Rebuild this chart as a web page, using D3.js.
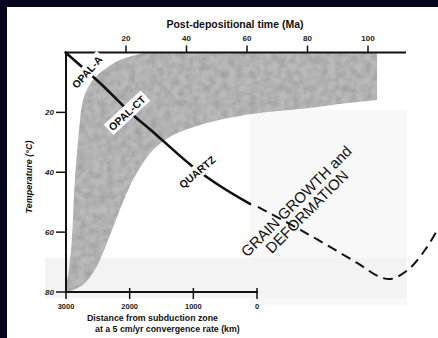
<!DOCTYPE html>
<html>
<head>
<meta charset="utf-8">
<script src="https://cdn.jsdelivr.net/npm/d3@7"></script>
<style>
  html, body { margin: 0; padding: 0; background: #fff; }
  svg { display: block; font-family: "Liberation Sans", Arial, sans-serif; }
</style>
</head>
<body>
<svg id="chart"></svg>
<script>
const width = 438;
const height = 338;

// axis ticks
const timeTicks = [20, 40, 60, 80, 100];
const tempTicks = [20, 40, 60, 80];
const distTicks = [3000, 2000, 1000, 0];

// burial path (Ma, deg C)
const solidMa   = [0, 11.4, 22.3, 27.9, 41.8, 51.1, 61.0];
const solidTemp = [0, 10.2, 20.9, 25.6, 37.9, 44.6, 50.6];
const dashMa    = [63.6, 74.2, 83.5, 96.4, 104.0, 107.9, 113.9, 119.5, 122.5];
const dashTemp  = [51.6, 57.3, 62.6, 70.3, 75.0, 75.6, 72.0, 65.0, 60.0];

// shaded field: curved outline from lower right corner round to the top edge (Ma, deg C)
const zoneMa   = [103, 88.4, 77.5, 66.6, 57.7, 51.1, 44.5, 39.5, 34.5, 28.9, 23.6, 20.7, 18.3, 16.0, 13.7, 11.4, 9.1, 6.1, 2.5, 0.5, 1.2, 2.1, 3.1, 4.5, 5.8, 8.1, 11.4, 18.0, 26.6];
const zoneTemp = [15.9, 17.5, 18.9, 19.9, 21.2, 22.5, 24.2, 25.9, 28.2, 32.6, 40.2, 45.9, 51.6, 57.6, 63.6, 69.3, 73.6, 77.3, 79.3, 79.7, 72.0, 62.6, 42.6, 25.9, 15.9, 10.5, 6.8, 2.5, 0];
const zoneTopRight = [103, 0];

// silica phase labels
const phaseNames = ["OPAL-A", "OPAL-CT", "QUARTZ"];
const phaseMa    = [7.1, 20.3, 43.5];
const phaseTemp  = [6.5, 20.2, 39.9];
const phaseAngle = [-48, -43, -40];

const svg = d3.select("#chart")
    .attr("width", width)
    .attr("height", height);

const defs = svg.append("defs");
const mottle = defs.append("filter").attr("id", "mottle")
    .attr("x", 0).attr("y", 0).attr("width", 1).attr("height", 1);
mottle.append("feTurbulence").attr("type", "fractalNoise")
    .attr("baseFrequency", 0.14).attr("numOctaves", 2).attr("seed", 4).attr("result", "noise");
mottle.append("feColorMatrix").attr("in", "noise").attr("type", "matrix")
    .attr("values", "0 0 0 0 0  0 0 0 0 0  0 0 0 0 0  0.25 0 0 0 -0.08").attr("result", "spots");
mottle.append("feComposite").attr("in", "spots").attr("in2", "SourceGraphic").attr("operator", "in");

svg.append("rect").attr("width", width).attr("height", height).attr("fill", "#fff");

// faint scan tint
svg.append("rect").attr("x", 250).attr("y", 110).attr("width", 157).attr("height", 195).attr("fill", "#f8f8f8");
svg.append("rect").attr("x", 45).attr("y", 258).attr("width", 362).attr("height", 40).attr("fill", "#f3f3f3");

const x = d3.scaleLinear().domain([0, 100]).range([65.5, 368]);
const y = d3.scaleLinear().domain([0, 80]).range([52.5, 292]);
const xDist = d3.scaleLinear().domain([3000, 0]).range([66, 257]);

// shaded field
const zoneCurve = d3.line().x(d => x(d[0])).y(d => y(d[1])).curve(d3.curveCatmullRom)(zoneMa.map((m, i) => [m, zoneTemp[i]]));
const zonePath = zoneCurve + `L${x(zoneTopRight[0])},${y(zoneTopRight[1])}Z`;
svg.append("path").attr("d", zonePath).attr("fill", "#bababa");
svg.append("path").attr("d", zonePath).attr("fill", "#000").attr("filter", "url(#mottle)");

// top axis
const topAxis = svg.append("g").attr("transform", `translate(0,${y(0)})`);
topAxis.append("line").attr("x1", 66).attr("x2", 406).attr("stroke", "#111").attr("stroke-width", 2);
topAxis.selectAll("line.tick").data(timeTicks).enter().append("line")
    .attr("class", "tick")
    .attr("x1", d => x(d)).attr("x2", d => x(d))
    .attr("y1", 0).attr("y2", -7)
    .attr("stroke", "#111").attr("stroke-width", 1.5);
topAxis.selectAll("text").data(timeTicks).enter().append("text")
    .attr("x", d => x(d)).attr("y", -12)
    .attr("text-anchor", "middle")
    .attr("font-size", 8).attr("font-weight", "bold").attr("fill", "#222")
    .text(d => d);

svg.append("text")
    .attr("x", 235).attr("y", 28)
    .attr("text-anchor", "middle")
    .attr("font-size", 10.5).attr("font-weight", "bold").attr("fill", "#111")
    .text("Post-depositional time (Ma)");

// left axis
const leftAxis = svg.append("g").attr("transform", `translate(66,0)`);
leftAxis.append("line").attr("y1", 52).attr("y2", 293).attr("stroke", "#111").attr("stroke-width", 2);
leftAxis.selectAll("line.tick").data(tempTicks).enter().append("line")
    .attr("class", "tick")
    .attr("y1", d => y(d)).attr("y2", d => y(d))
    .attr("x1", 0).attr("x2", -10)
    .attr("stroke", "#111").attr("stroke-width", 1.5);
leftAxis.selectAll("text").data(tempTicks).enter().append("text")
    .attr("x", -12).attr("y", d => y(d) + 3)
    .attr("text-anchor", "end")
    .attr("font-size", 8).attr("font-weight", "bold").attr("font-style", "italic").attr("fill", "#222")
    .text(d => d);

svg.append("text")
    .attr("transform", "translate(32,177) rotate(-90)")
    .attr("text-anchor", "middle")
    .attr("font-size", 9).attr("font-weight", "bold").attr("font-style", "italic").attr("fill", "#111")
    .text("Temperature (°C)");

// bottom axis
const botAxis = svg.append("g").attr("transform", `translate(0,${y(80)})`);
botAxis.append("line").attr("x1", 65).attr("x2", 258).attr("stroke", "#111").attr("stroke-width", 2);
botAxis.selectAll("line.tick").data(distTicks).enter().append("line")
    .attr("class", "tick")
    .attr("x1", d => xDist(d)).attr("x2", d => xDist(d))
    .attr("y1", -4).attr("y2", 7)
    .attr("stroke", "#111").attr("stroke-width", 1.5);
botAxis.selectAll("text").data(distTicks).enter().append("text")
    .attr("x", d => xDist(d)).attr("y", 17)
    .attr("text-anchor", "middle")
    .attr("font-size", 7.5).attr("font-weight", "bold").attr("fill", "#222")
    .text(d => d);

svg.append("text")
    .attr("x", 87).attr("y", 321)
    .attr("font-size", 8.8).attr("font-weight", "bold").attr("fill", "#111")
    .text("Distance from subduction zone");
svg.append("text")
    .attr("x", 95).attr("y", 332)
    .attr("font-size", 8.8).attr("font-weight", "bold").attr("fill", "#111")
    .text("at a 5 cm/yr convergence rate (km)");

// burial path
const lineGen = d3.line().x(d => x(d[0])).y(d => y(d[1])).curve(d3.curveCatmullRom);
svg.append("path")
    .attr("d", lineGen(solidMa.map((m, i) => [m, solidTemp[i]])))
    .attr("fill", "none").attr("stroke", "#111").attr("stroke-width", 2.6)
    .attr("stroke-linecap", "round");
svg.append("path")
    .attr("d", lineGen(dashMa.map((m, i) => [m, dashTemp[i]])))
    .attr("fill", "none").attr("stroke", "#111").attr("stroke-width", 2)
    .attr("stroke-dasharray", "10,6");

// phase labels with white boxes
phaseNames.forEach((name, i) => {
    const g = svg.append("g")
        .attr("transform", `translate(${x(phaseMa[i])},${y(phaseTemp[i])}) rotate(${phaseAngle[i]})`);
    const t = g.append("text")
        .attr("text-anchor", "middle").attr("y", 4)
        .attr("font-size", 10.5).attr("font-weight", "bold").attr("fill", "#111")
        .text(name);
    const b = t.node().getBBox();
    g.insert("rect", "text")
        .attr("x", b.x - 2).attr("y", b.y - 1)
        .attr("width", b.width + 4).attr("height", b.height + 2)
        .attr("fill", "#fff");
});

// grain growth annotation
const ann = svg.append("g")
    .attr("transform", `translate(${x(77.5)},${y(50.9)}) rotate(-45)`);
ann.append("text").attr("text-anchor", "middle").attr("y", 0)
    .attr("font-size", 15).attr("fill", "#111").text("GRAIN GROWTH and");
ann.append("text").attr("text-anchor", "middle").attr("y", 15)
    .attr("font-size", 15).attr("fill", "#111").text("DEFORMATION");

// dark frame edges
svg.append("rect").attr("x", 0).attr("y", 0).attr("width", 7).attr("height", height).attr("fill", "#05041d");
svg.append("rect").attr("x", 0).attr("y", 0).attr("width", width).attr("height", 7).attr("fill", "#05041d");
</script>
</body>
</html>
